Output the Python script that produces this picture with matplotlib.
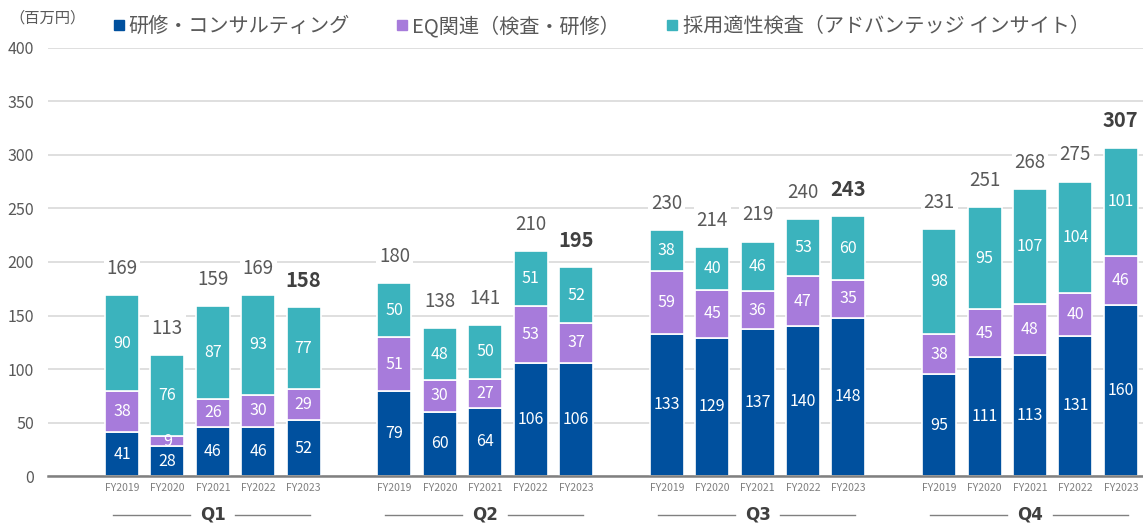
import matplotlib
matplotlib.use("Agg")
import matplotlib.pyplot as plt
import matplotlib.transforms as mtransforms
import numpy as np

plt.rcParams['font.family'] = ['Noto Sans CJK JP', 'DejaVu Sans']

# data (百万円)
quarters = ["Q1", "Q2", "Q3", "Q4"]
years = ["FY2019", "FY2020", "FY2021", "FY2022", "FY2023"]
series_names = ["研修・コンサルティング", "EQ関連（検査・研修）", "採用適性検査（アドバンテッジ インサイト）"]
consulting = [41, 28, 46, 46, 52,
              79, 60, 64, 106, 106,
              133, 129, 137, 140, 148,
              95, 111, 113, 131, 160]
eq = [38, 9, 26, 30, 29,
      51, 30, 27, 53, 37,
      59, 45, 36, 47, 35,
      38, 45, 48, 40, 46]
recruit = [90, 76, 87, 93, 77,
           50, 48, 50, 51, 52,
           38, 40, 46, 53, 60,
           98, 95, 107, 104, 101]
totals = [169, 113, 159, 169, 158,
          180, 138, 141, 210, 195,
          230, 214, 219, 240, 243,
          231, 251, 268, 275, 307]

colors = ["#00509E", "#A77BDB", "#3BB3BD"]

fig = plt.figure(figsize=(11.43, 5.24), dpi=100)
ax = fig.add_axes([0.042, 0.0916, 0.958, 0.8168])

# positions: 5 bars per quarter plus one empty slot between quarters
x = np.array([q * 6 + i for q in range(len(quarters)) for i in range(len(years))], dtype=float)
width = 0.75

bottom = np.zeros(len(x))
for vals, col in zip([consulting, eq, recruit], colors):
    vals = np.array(vals, dtype=float)
    ax.bar(x, vals, width, bottom=bottom, color=col, edgecolor="white", linewidth=1.2, zorder=3)
    for xi, b, v in zip(x, bottom, vals):
        ax.text(xi, b + v / 2, str(int(v)), ha="center", va="center", color="white",
                fontsize=11.5, zorder=4)
    bottom += vals

# totals above bars
for k, (xi, t) in enumerate(zip(x, totals)):
    bold = (k % 5 == 4)
    ax.text(xi, t + 25, str(t), ha="center", va="center",
            fontsize=14.5 if bold else 13.5, fontweight="bold" if bold else "normal",
            color="#404040" if bold else "#595959", zorder=4,
            bbox=dict(boxstyle="square,pad=0.15", facecolor="white", edgecolor="none"))

ax.set_xlim(-1.63, 22.49)
ax.set_ylim(0, 400)
ax.set_yticks(np.arange(0, 401, 50))
ax.tick_params(axis="y", length=0, labelsize=11.5, labelcolor="#595959", pad=10)
ax.set_xticks(x)
ax.set_xticklabels(years * len(quarters), fontsize=7.5, color="#7F7F7F")
ax.tick_params(axis="x", length=0, pad=5)
ax.grid(axis="y", color="#D9D9D9", linewidth=1.2, zorder=0)
for s in ["top", "right", "left"]:
    ax.spines[s].set_visible(False)
ax.spines["bottom"].set_color("#808080")
ax.spines["bottom"].set_linewidth(1.8)
ax.spines["bottom"].set_zorder(5)

# quarter labels with side lines
trans = mtransforms.blended_transform_factory(ax.transData, ax.transAxes)
qy = -0.09
for q, name in enumerate(quarters):
    c = q * 6 + 2
    ax.text(c, qy, name, transform=trans, ha="center", va="center",
            fontsize=12, fontweight="bold", color="#404040", family="DejaVu Sans")
    ax.plot([c - 2.2, c - 0.5], [qy, qy], transform=trans, color="#808080",
            linewidth=1, clip_on=False)
    ax.plot([c + 0.5, c + 2.15], [qy, qy], transform=trans, color="#808080",
            linewidth=1, clip_on=False)

# unit label
fig.text(0.008, 0.965, "（百万円）", fontsize=11, color="#595959", va="center", ha="left")

# legend
handles = [plt.Line2D([], [], marker="s", linestyle="none", markersize=7, color=c) for c in colors]
fig.legend(handles, series_names, loc="center", bbox_to_anchor=(0.525, 0.95), ncol=3,
           frameon=False, fontsize=14.5, handletextpad=0.1, columnspacing=2.2,
           labelcolor="#595959", handlelength=0.8)

fig.savefig("out.png", dpi=100)
